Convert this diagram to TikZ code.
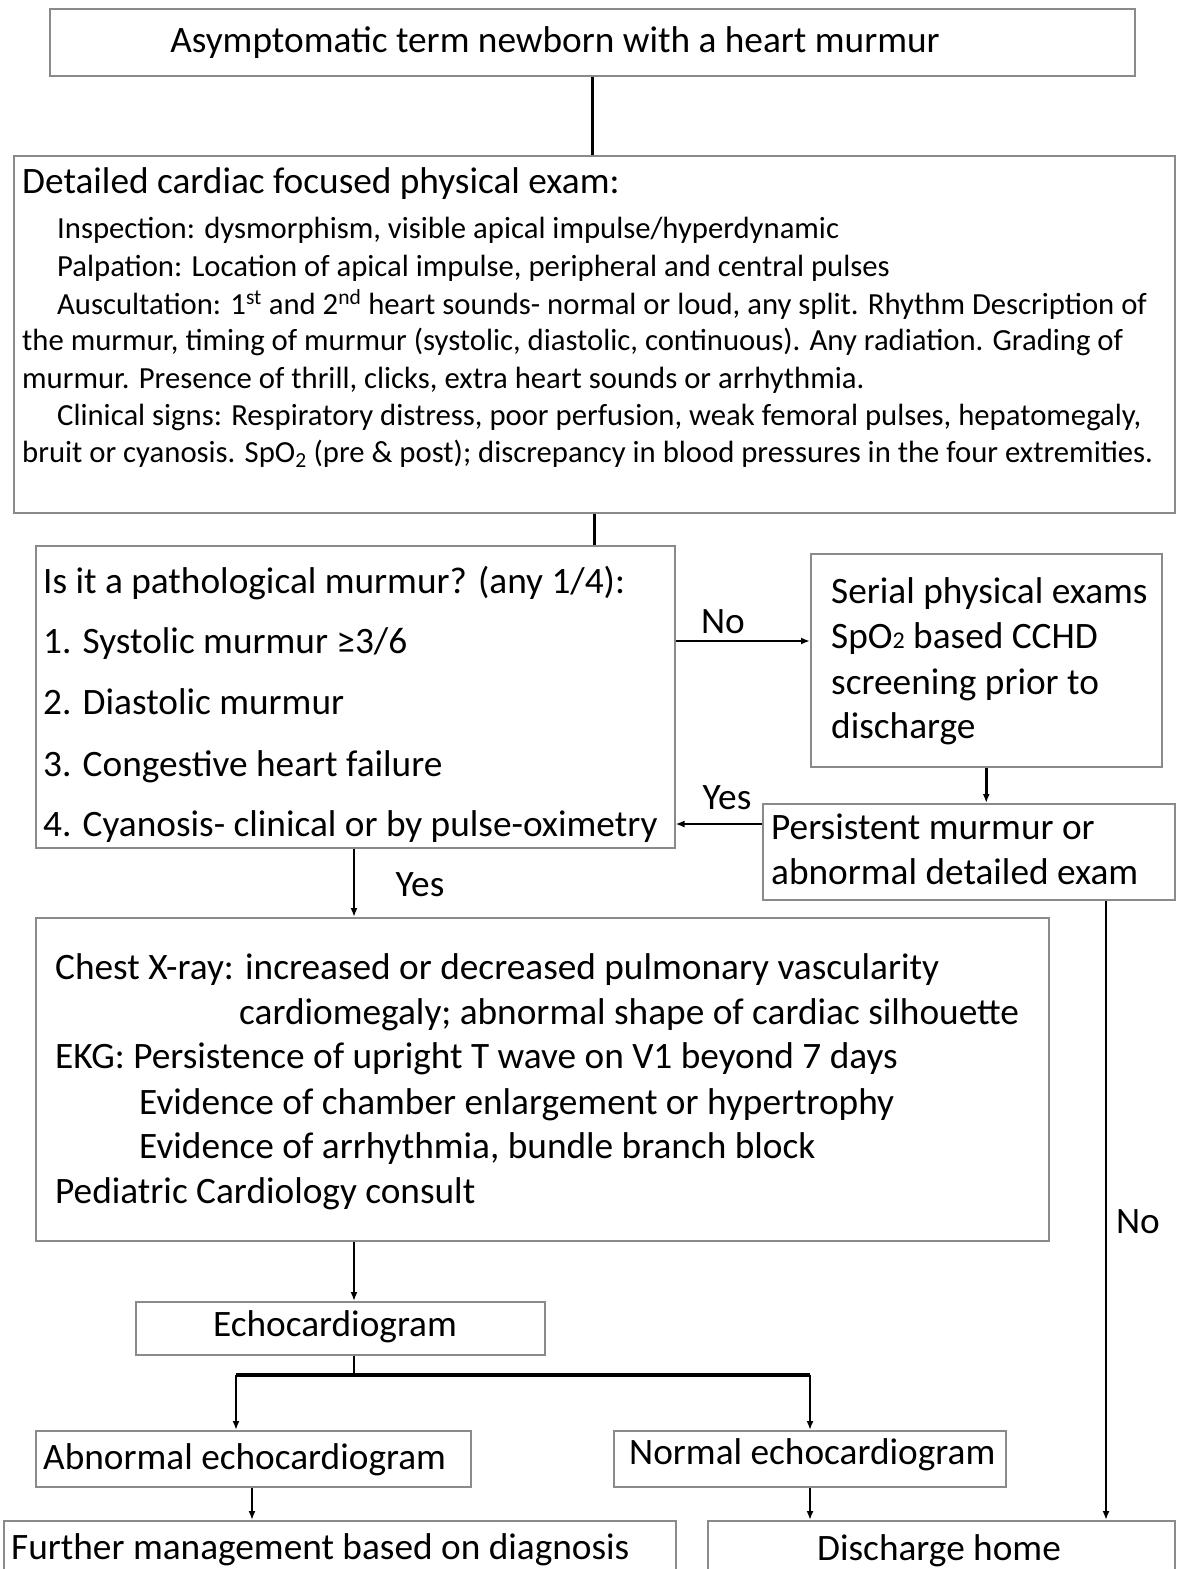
\documentclass[tikz,border=0pt]{standalone}
\usepackage{fontspec}
\setmainfont{Carlito}
\usetikzlibrary{arrows.meta}
\newcommand\fsz[1]{\fontsize{#1}{#1}\selectfont}
\definecolor{boxgray}{HTML}{8A8A8A}
\begin{document}
\begin{tikzpicture}[x=1pt,y=-1pt,
  box/.style={draw=boxgray, line width=1.5pt, inner sep=0pt, anchor=north west},
  lbl/.style={anchor=base west, inner sep=0pt, font=\fsz{37.3}},
  sml/.style={anchor=base west, inner sep=0pt, font=\fsz{30.7}},
  clbl/.style={anchor=base, inner sep=0pt, font=\fsz{37.3}},
  conn/.style={line width=2.8pt, black},
  arr/.style={conn, -{Latex[length=9pt,width=7pt]}},
]
\useasboundingbox (0,0) rectangle (1176,1569);
\clip (0,0) rectangle (1176,1569);
% boxes
\node[box, minimum width=1085pt, minimum height=67pt] (b1) at (49,8) {};
\node[box, minimum width=1161pt, minimum height=357pt] (b2) at (13,155) {};
\node[box, minimum width=639pt, minimum height=302pt] (b3) at (35,545) {};
\node[box, minimum width=351pt, minimum height=213pt] (b4) at (810,553) {};
\node[box, minimum width=412pt, minimum height=96pt] (b5) at (762,803) {};
\node[box, minimum width=1013pt, minimum height=323pt] (b6) at (35,917) {};
\node[box, minimum width=409pt, minimum height=53pt] (b7) at (135,1301) {};
\node[box, minimum width=435pt, minimum height=56pt] (b8) at (35,1430) {};
\node[box, minimum width=392pt, minimum height=56pt] (b9) at (613,1430) {};
\node[box, minimum width=672pt, minimum height=80pt] (b10) at (3,1520) {};
\node[box, minimum width=467pt, minimum height=80pt] (b11) at (707,1520) {};
% texts
\node[clbl] (t1) at (555,52) {Asymptomatic term newborn with a heart murmur};
\node[lbl] (t2) at (22,193) {Detailed cardiac focused physical exam:};
\node[sml] (t2a) at (57,238) {Inspection: dysmorphism, visible apical impulse/hyperdynamic};
\node[sml] (t2b) at (57,276) {Palpation: Location of apical impulse, peripheral and central pulses};
\node[sml] (t2c) at (57,314) {Auscultation: 1\textsuperscript{st} and 2\textsuperscript{nd} heart sounds- normal or loud, any split. Rhythm Description of};
\node[sml] (t2d) at (22,350) {the murmur, timing of murmur (systolic, diastolic, continuous). Any radiation. Grading of};
\node[sml] (t2e) at (22,388) {murmur. Presence of thrill, clicks, extra heart sounds or arrhythmia.};
\node[sml] (t2f) at (57,425) {Clinical signs: Respiratory distress, poor perfusion, weak femoral pulses, hepatomegaly,};
\node[sml] (t2g) at (22,462) {bruit or cyanosis. SpO\textsubscript{2} (pre \& post); discrepancy in blood pressures in the four extremities.};
\node[lbl] (t3) at (43,593) {Is it a pathological murmur? (any 1/4):};
\node[lbl] (t3a) at (43,653) {1. Systolic murmur ≥3/6};
\node[lbl] (t3b) at (43,714) {2. Diastolic murmur};
\node[lbl] (t3c) at (43,776) {3. Congestive heart failure};
\node[lbl] (t3d) at (43,836) {4. Cyanosis- clinical or by pulse-oximetry};
\node[lbl] (t4a) at (831,603) {Serial physical exams};
\node[lbl] (t4b) at (831,648) {SpO{\fsz{24}2} based CCHD};
\node[lbl] (t4c) at (831,694) {screening prior to};
\node[lbl] (t4d) at (831,738) {discharge};
\node[lbl] (t5a) at (771,839) {Persistent murmur or};
\node[lbl] (t5b) at (771,884) {abnormal detailed exam};
\node[lbl] (t6a) at (55,979) {Chest X-ray: increased or decreased pulmonary vascularity};
\node[lbl] (t6b) at (239,1024) {cardiomegaly; abnormal shape of cardiac silhouette};
\node[lbl] (t6c) at (55,1068) {EKG: Persistence of upright T wave on V1 beyond 7 days};
\node[lbl] (t6d) at (139,1114) {Evidence of chamber enlargement or hypertrophy};
\node[lbl] (t6e) at (139,1158) {Evidence of arrhythmia, bundle branch block};
\node[lbl] (t6f) at (55,1203) {Pediatric Cardiology consult};
\node[clbl] (t7) at (335,1336) {Echocardiogram};
\node[lbl] (t8) at (43,1469) {Abnormal echocardiogram};
\node[lbl] (t9) at (629,1464) {Normal echocardiogram};
\node[lbl] (t10) at (11,1559) {Further management based on diagnosis};
\node[clbl] (t11) at (939,1560) {Discharge home};
% connector labels
\node[clbl] (lno1) at (723,633) {No};
\node[clbl] (lyes1) at (727,809) {Yes};
\node[clbl] (lyes2) at (420,896) {Yes};
\node[clbl] (lno2) at (1138,1233) {No};
% helper coordinates
\coordinate (yNo) at (0,641);
\coordinate (yYes) at (0,824);
\coordinate (xMid) at (354,0);
\coordinate (yBr) at (0,1375);
\coordinate (xL) at (236,0);
\coordinate (xR) at (810,0);
\coordinate (xAb) at (252,0);
\coordinate (xRt) at (1106,0);
% connectors
\draw[conn] (b1.south) -- (b1.south |- b2.north);
\draw[conn] (b2.south) -- (b2.south |- b3.north);
\draw[arr] (b3.east |- yNo) -- (b4.west |- yNo);
\draw[arr] (b4.south) -- (b4.south |- b5.north);
\draw[arr] (b5.west |- yYes) -- (b3.east |- yYes);
\draw[arr] (xMid |- b3.south) -- (xMid |- b6.north);
\draw[arr] (xMid |- b6.south) -- (xMid |- b7.north);
\draw[conn] (xMid |- b7.south) -- (xMid |- yBr);
\draw[line width=3.4pt] (xL |- yBr) -- (xR |- yBr);
\draw[arr] (xL |- yBr) -- (xL |- b8.north);
\draw[arr] (xR |- yBr) -- (xR |- b9.north);
\draw[arr] (xAb |- b8.south) -- (xAb |- b10.north);
\draw[arr] (xR |- b9.south) -- (xR |- b11.north);
\draw[arr] (xRt |- b5.south) -- (xRt |- b11.north);
\end{tikzpicture}
\end{document}
